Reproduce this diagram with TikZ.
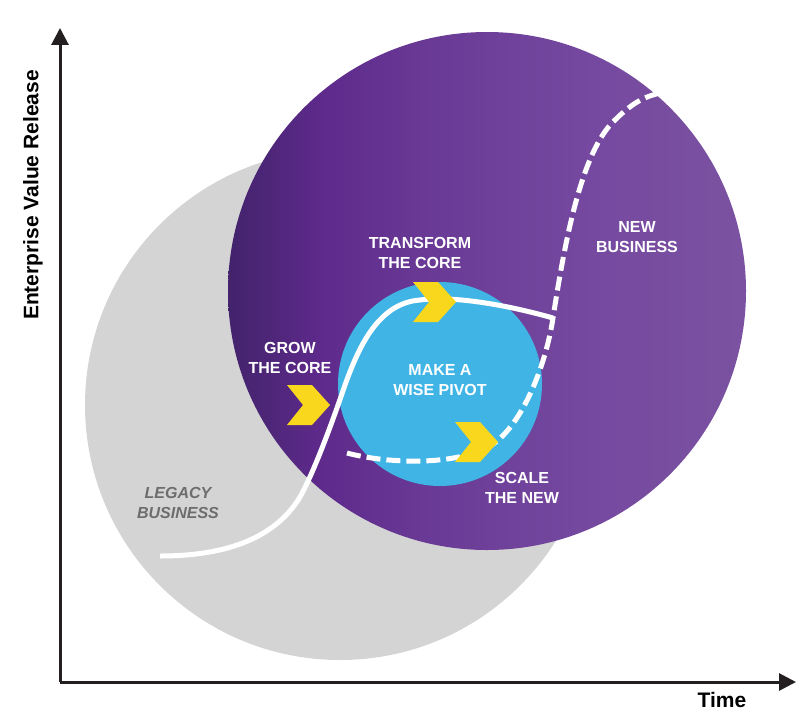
\documentclass[tikz,border=0pt]{standalone}
\usepackage{fontspec}
\setmainfont{Liberation Sans}
\usetikzlibrary{arrows.meta}
\definecolor{graybg}{HTML}{D4D4D4}
\definecolor{skyblue}{HTML}{41B4E6}
\definecolor{chevcol}{HTML}{F9D71C}
\definecolor{legacytxt}{HTML}{6D6D6D}
\definecolor{axiscol}{HTML}{231F20}
\definecolor{pA}{HTML}{43236C}
\definecolor{pB}{HTML}{4E2679}
\definecolor{pC}{HTML}{5E2A8C}
\definecolor{pD}{HTML}{6A3B96}
\definecolor{pE}{HTML}{7549A0}
\definecolor{pF}{HTML}{7B52A1}
\pgfdeclarehorizontalshading{purpshade}{100bp}{color(0bp)=(pA); color(25bp)=(pA); color(29bp)=(pB); color(34bp)=(pC); color(45bp)=(pD); color(60bp)=(pE); color(75bp)=(pF); color(100bp)=(pF)}
\newcommand\lblfont{\fontsize{16}{20}\selectfont\bfseries}
\tikzset{
  lbl/.style={text=white, font=\lblfont, align=center, inner sep=0pt},
  axislbl/.style={text=black, font=\fontsize{21}{24}\selectfont\bfseries, inner sep=0pt},
  axisline/.style={draw=axiscol, line width=3pt, -{Triangle[width=17pt,length=17pt]}},
  curve/.style={draw=white, line width=5pt},
  dashcurve/.style={draw=white, line width=5pt, dash pattern=on 14pt off 6pt},
  chevron/.pic={\fill[chevcol] (0,0) -- (25,0) -- (43,20) -- (25,40) -- (0,40) -- (16,20) -- cycle;}
}
\begin{document}
\begin{tikzpicture}[x=1pt,y=-1pt]
\useasboundingbox (0,0) rectangle (800,725);
% circles
\fill[graybg] (340,405) circle[radius=255pt];
\shade[shading=purpshade] (487,291) circle[radius=259pt];
\fill[skyblue] (440,384) circle[radius=102pt];
% axes
\coordinate (o) at (60,682);
\coordinate (ytop) at (60,28);
\coordinate (xend) at (796,682);
\draw[axisline] (o) -- (ytop);
\draw[axisline] (o) -- (xend);
\node[axislbl, rotate=90] (ylab) at (33,195) {Enterprise Value Release};
\node[axislbl] (xlab) at (722,700) {Time};
% curves
\coordinate (s0) at (160,556);
\coordinate (s1) at (300,497);
\coordinate (s2) at (345,385);
\coordinate (s3) at (420,300);
\coordinate (j) at (553,318);
\draw[curve] (s0) .. controls (240,556) and (280,530) .. (s1)
  .. controls (315,470) and (333,420) .. (s2)
  .. controls (360,343) and (380,303) .. (s3)
  .. controls (450,296) and (500,303) .. (j);
\coordinate (d0) at (347,453);
\coordinate (d1) at (490,446);
\coordinate (d2) at (615,120);
\coordinate (d3) at (660,93);
\draw[dashcurve] (d0) .. controls (380,462) and (450,468) .. (d1)
  .. controls (520,428) and (545,370) .. (j)
  .. controls (565,240) and (582,150) .. (d2)
  .. controls (635,100) and (648,96) .. (d3);
% chevrons
\pic at (287,385) {chevron};
\pic at (413,282) {chevron};
\pic at (455,422) {chevron};
% labels
\node[lbl] (transform) at (420,253) {TRANSFORM\\THE CORE};
\node[lbl] (grow) at (290,358) {GROW\\THE CORE};
\node[lbl] (pivot) at (440,380) {MAKE A\\WISE PIVOT};
\node[lbl] (scale) at (522,488) {SCALE\\THE NEW};
\node[lbl] (newbiz) at (637,237) {NEW\\BUSINESS};
\node[lbl, text=legacytxt, font=\lblfont\itshape] (legacy) at (178,503) {LEGACY\\BUSINESS};
\end{tikzpicture}
\end{document}
